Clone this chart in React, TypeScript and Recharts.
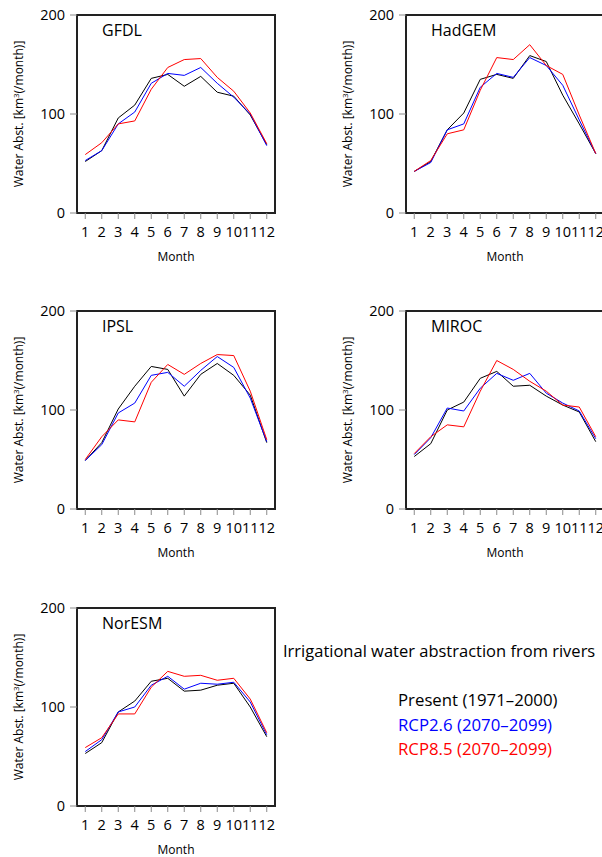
import { LineChart, Line, XAxis, YAxis, ReferenceArea, Label } from 'recharts';

const months = [1, 2, 3, 4, 5, 6, 7, 8, 9, 10, 11, 12];
const yTicks = [0, 100, 200];

const gfdlPresent = [52, 63, 96, 109, 136, 140, 128, 138, 122, 118, 99, 69];
const gfdlRcp26 = [53, 63, 90, 102, 131, 141, 139, 147, 131, 117, 100, 68];
const gfdlRcp85 = [59, 71, 90, 93, 125, 147, 155, 156, 137, 123, 101, 70];

const hadgemPresent = [42, 52, 84, 101, 135, 140, 136, 159, 153, 119, 90, 60];
const hadgemRcp26 = [42, 51, 84, 90, 127, 141, 137, 157, 149, 129, 94, 60];
const hadgemRcp85 = [42, 53, 80, 84, 124, 157, 155, 170, 149, 140, 99, 60];

const ipslPresent = [49, 67, 101, 124, 144, 141, 114, 136, 147, 135, 115, 67];
const ipslRcp26 = [49, 65, 97, 107, 135, 138, 124, 140, 154, 143, 112, 68];
const ipslRcp85 = [50, 73, 90, 88, 128, 146, 136, 147, 156, 155, 119, 70];

const mirocPresent = [53, 66, 100, 108, 132, 139, 124, 125, 114, 105, 98, 68];
const mirocRcp26 = [55, 72, 102, 99, 122, 137, 130, 137, 117, 107, 99, 71];
const mirocRcp85 = [56, 73, 85, 83, 119, 150, 141, 129, 119, 105, 103, 73];

const noresmPresent = [53, 64, 95, 106, 126, 129, 116, 117, 122, 124, 100, 70];
const noresmRcp26 = [55, 67, 95, 100, 122, 131, 118, 124, 123, 125, 105, 72];
const noresmRcp85 = [59, 69, 93, 93, 120, 136, 131, 132, 127, 129, 108, 74];

const seriesNames = ['Present (1971\u20132000)', 'RCP2.6 (2070\u20132099)', 'RCP8.5 (2070\u20132099)'];
const seriesColors = ['#000000', '#0000ff', '#ff0000'];
const legendTitle = 'Irrigational water abstraction from rivers';

const font = "'Open Sans', sans-serif";
const boxColor = '#222';
const tickColor = '#8a8a8a';

function MonthLabel(props: any) {
  const { viewBox } = props;
  return (
    <text x={viewBox.x + viewBox.width / 2} y={viewBox.y + 48} textAnchor="middle" fontSize={12} fill="#000">
      Month
    </text>
  );
}

function WaterLabel(props: any) {
  const { viewBox } = props;
  const cx = 23;
  const cy = viewBox.y + viewBox.height / 2;
  return (
    <text x={cx} y={cy} textAnchor="middle" fontSize={12} fill="#000" transform={`rotate(-90, ${cx}, ${cy})`}>
      Water Abst. [km<tspan dy={-4} fontSize={8}>3</tspan>
      <tspan dy={4}>(/month)]</tspan>
    </text>
  );
}

function Panel({ title, present, rcp26, rcp85, left, top }: any) {
  const data = months.map((m, i) => ({ month: m, present: present[i], rcp26: rcp26[i], rcp85: rcp85[i] }));
  const titleLabel = (props: any) => (
    <text x={props.viewBox.x + 25} y={props.viewBox.y + 21} fontSize={16} fill="#000">
      {title}
    </text>
  );
  return (
    <div style={{ position: 'absolute', left, top }}>
      <LineChart width={300} height={290} data={data} margin={{ top: 15, right: 25, bottom: 17, left: 0 }}>
        <XAxis
          dataKey="month"
          type="number"
          domain={[0.5, 12.5]}
          ticks={months}
          interval={0}
          height={60}
          tickSize={6}
          tickMargin={8}
          axisLine={false}
          tickLine={{ stroke: tickColor }}
          tick={{ fill: '#000', fontSize: 14.5 }}
        >
          <Label content={MonthLabel} />
        </XAxis>
        <XAxis
          xAxisId="top"
          orientation="top"
          dataKey="month"
          type="number"
          domain={[0.5, 12.5]}
          ticks={months}
          interval={0}
          height={0}
          tickSize={6}
          axisLine={false}
          tickLine={{ stroke: tickColor }}
          tick={false}
        />
        <YAxis
          domain={[0, 200]}
          ticks={yTicks}
          interval={0}
          width={77}
          tickSize={7}
          tickMargin={5}
          axisLine={false}
          tickLine={{ stroke: tickColor }}
          tick={{ fill: '#000', fontSize: 14.5 }}
        >
          <Label content={WaterLabel} />
        </YAxis>
        <YAxis
          yAxisId="right"
          orientation="right"
          domain={[0, 200]}
          ticks={yTicks}
          interval={0}
          width={0}
          tickSize={7}
          axisLine={false}
          tickLine={{ stroke: tickColor }}
          tick={false}
        />
        <ReferenceArea x1={0.5} x2={12.5} y1={0} y2={200} fill="none" stroke={boxColor} strokeWidth={2} label={titleLabel} />
        <Line dataKey="present" stroke={seriesColors[0]} strokeWidth={1} dot={false} isAnimationActive={false} />
        <Line dataKey="rcp26" stroke={seriesColors[1]} strokeWidth={1} dot={false} isAnimationActive={false} />
        <Line dataKey="rcp85" stroke={seriesColors[2]} strokeWidth={1} dot={false} isAnimationActive={false} />
      </LineChart>
    </div>
  );
}

export default function App() {
  return (
    <div
      style={{
        position: 'absolute',
        left: 0,
        top: 0,
        width: 602,
        height: 857,
        overflow: 'hidden',
        background: '#fff',
        fontFamily: font,
      }}
    >
      <Panel title="GFDL" present={gfdlPresent} rcp26={gfdlRcp26} rcp85={gfdlRcp85} left={0} top={0} />
      <Panel title="HadGEM" present={hadgemPresent} rcp26={hadgemRcp26} rcp85={hadgemRcp85} left={329} top={0} />
      <Panel title="IPSL" present={ipslPresent} rcp26={ipslRcp26} rcp85={ipslRcp85} left={0} top={296} />
      <Panel title="MIROC" present={mirocPresent} rcp26={mirocRcp26} rcp85={mirocRcp85} left={329} top={296} />
      <Panel title="NorESM" present={noresmPresent} rcp26={noresmRcp26} rcp85={noresmRcp85} left={0} top={593} />

      <svg style={{ position: 'absolute', left: 270, top: 620 }} width={332} height={150}>
        <text x={13} y={37} fontSize={16.5} fill="#000">
          {legendTitle}
        </text>
        {seriesNames.map((name, i) => (
          <text key={name} x={128} y={86 + i * 24.5} fontSize={16.8} fill={seriesColors[i]}>
            {name}
          </text>
        ))}
      </svg>
    </div>
  );
}
